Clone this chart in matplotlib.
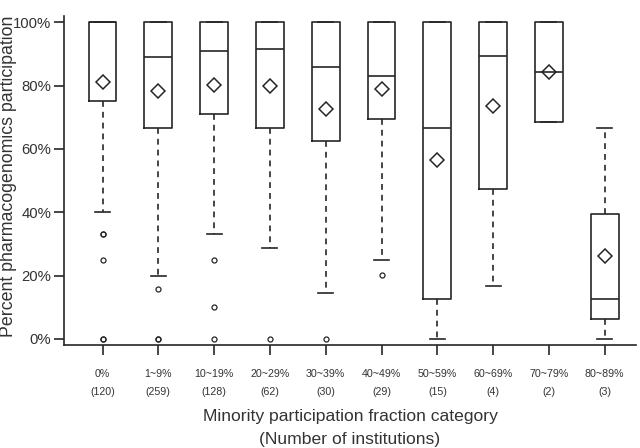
import matplotlib
matplotlib.use("Agg")
import matplotlib.pyplot as plt

categories = ["0%", "1~9%", "10~19%", "20~29%", "30~39%", "40~49%",
              "50~59%", "60~69%", "70~79%", "80~89%"]
counts = [120, 259, 128, 62, 30, 29, 15, 4, 2, 3]
q1 = [75.0, 66.7, 71.1, 66.7, 62.5, 69.5, 12.6, 47.5, 68.5, 6.3]
median = [100.0, 88.9, 90.9, 91.5, 85.8, 83.2, 66.7, 89.3, 84.2, 12.5]
q3 = [100.0, 100.0, 100.0, 100.0, 100.0, 100.0, 100.0, 100.0, 100.0, 39.5]
mean = [81.0, 78.3, 80.1, 79.8, 72.5, 78.9, 56.5, 73.7, 84.2, 26.3]
whislo = [40.0, 20.0, 33.3, 28.7, 14.4, 25.0, 0.0, 16.8, 68.5, 0.0]
whishi = [100.0, 100.0, 100.0, 100.0, 100.0, 100.0, 100.0, 100.0, 100.0, 66.7]
fliers = [[33.3, 33.3, 25.0, 0.0, 0.0], [15.8, 0.0, 0.0], [24.9, 10.0, 0.0],
          [0.0], [0.0], [20.2], [], [], [], []]
yticks = [0, 20, 40, 60, 80, 100]

plt.rcParams['font.family'] = ['Liberation Sans', 'DejaVu Sans']
line_c = '#262626'
text_c = '#333333'

fig = plt.figure(figsize=(6.4, 4.48), dpi=100)
ax = fig.add_axes([64/640, 1-345/448, (636-64)/640, (345-16)/448])

stats = []
for i in range(len(categories)):
    stats.append(dict(q1=q1[i], med=median[i], q3=q3[i], mean=mean[i],
                      whislo=whislo[i], whishi=whishi[i], fliers=fliers[i]))

positions = list(range(1, len(categories) + 1))
ax.bxp(stats, positions=positions, widths=0.5, capwidths=0.27,
       showmeans=True, meanline=False,
       boxprops=dict(color=line_c, linewidth=1.2),
       medianprops=dict(color=line_c, linewidth=1.2),
       whiskerprops=dict(color=line_c, linewidth=1.2, linestyle=(0, (3.5, 3))),
       capprops=dict(color=line_c, linewidth=1.2),
       flierprops=dict(marker='o', markerfacecolor='none', markeredgecolor=line_c,
                       markersize=3.6, markeredgewidth=0.9),
       meanprops=dict(marker='D', markerfacecolor='none', markeredgecolor=line_c,
                      markersize=7, markeredgewidth=1.1))

ax.set_xlim(0.31, 10.56)
ax.set_ylim(-1.9, 102)
ax.set_yticks(yticks)
ax.set_yticklabels([f"{v}%" for v in yticks], fontsize=10.7, color=text_c)
ax.set_xticks(positions)
ax.set_xticklabels([f"{c}\n({n})" for c, n in zip(categories, counts)],
                   fontsize=7.7, color=text_c, linespacing=2.0)
ax.tick_params(axis='y', length=7.5, width=1.2, color=line_c, pad=1.5)
ax.tick_params(axis='x', length=7.5, width=1.2, color=line_c, pad=10)
for s in ['top', 'right']:
    ax.spines[s].set_visible(False)
for s in ['left', 'bottom']:
    ax.spines[s].set_color(line_c)
    ax.spines[s].set_linewidth(1.2)

xc = 350/640
fig.text(xc, 1-416/448, "Minority participation fraction category", ha='center', va='center',
         fontsize=12.6, color=text_c)
fig.text(xc, 1-439/448, "(Number of institutions)", ha='center', va='center',
         fontsize=12.6, color=text_c)
fig.text(8.5/640, 1-176/448, "Percent pharmacogenomics participation", ha='center', va='center',
         rotation=90, fontsize=12.8, color=text_c)

fig.savefig("out.png", dpi=100)
